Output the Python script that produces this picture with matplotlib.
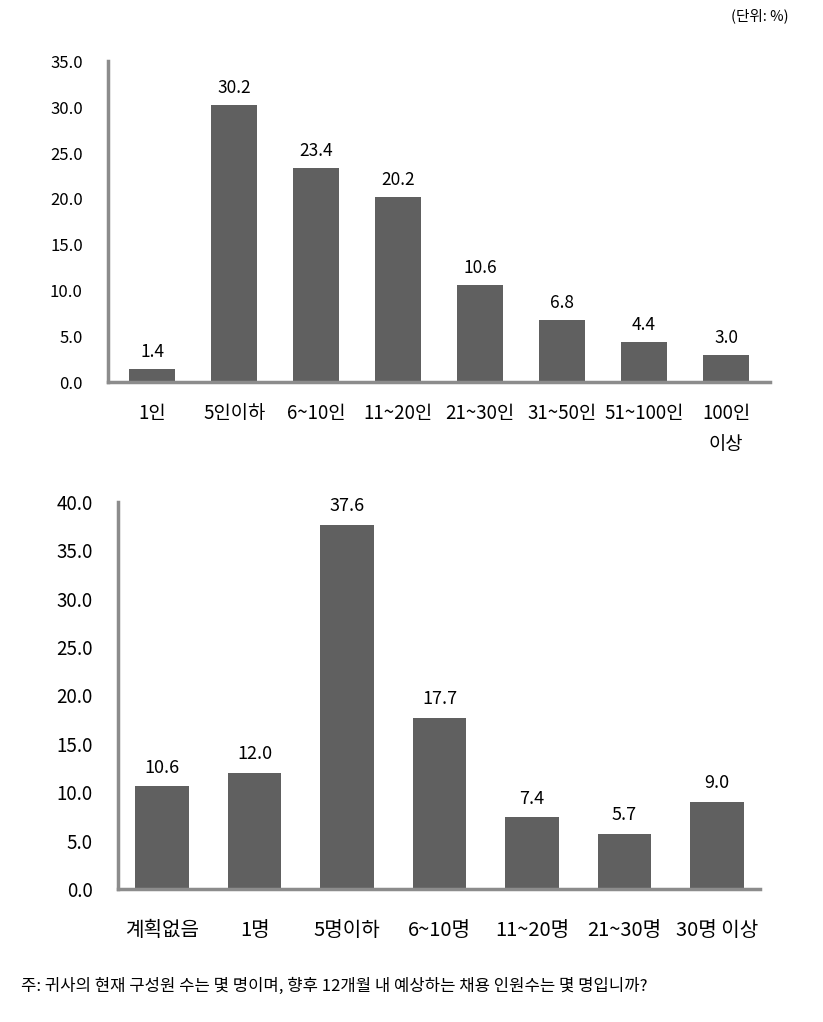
import numpy as np
import matplotlib.pyplot as plt

plt.rcParams['font.family'] = ['Noto Sans CJK KR', 'DejaVu Sans']

# 구성원 수
cat_top = ['1인', '5인이하', '6~10인', '11~20인', '21~30인', '31~50인', '51~100인', '100인\n이상']
val_top = [1.4, 30.2, 23.4, 20.2, 10.6, 6.8, 4.4, 3.0]

# 채용 예상 인원
cat_bot = ['계획없음', '1명', '5명이하', '6~10명', '11~20명', '21~30명', '30명 이상']
val_bot = [10.6, 12.0, 37.6, 17.7, 7.4, 5.7, 9.0]

bar_color = '#606060'
spine_color = '#8c8c8c'

fig = plt.figure(figsize=(8.23, 10.22), dpi=100)


def draw(ax, cats, vals, ymax, step, width, xpad, fs_y, fs_v, fs_x, xpad_lbl):
    x = np.arange(len(cats))
    ax.bar(x, vals, width=width, color=bar_color)
    for xi, v in zip(x, vals):
        ax.text(xi, v + ymax * 0.025, f'{v:.1f}', ha='center', va='bottom', fontsize=fs_v)
    ax.set_xlim(-xpad[0], len(cats) - 1 + xpad[1])
    ax.set_ylim(0, ymax)
    ticks = np.arange(0, ymax + 0.01, step)
    ax.set_yticks(ticks)
    ax.set_yticklabels([f'{t:.1f}' for t in ticks], fontsize=fs_y)
    ax.set_xticks(x)
    ax.set_xticklabels(cats, fontsize=fs_x, linespacing=1.6, va='top')
    ax.tick_params(length=0)
    ax.tick_params(axis='y', pad=18)
    ax.tick_params(axis='x', pad=xpad_lbl)
    for s in ['top', 'right']:
        ax.spines[s].set_visible(False)
    for s in ['left', 'bottom']:
        ax.spines[s].set_color(spine_color)
        ax.spines[s].set_linewidth(2.5)


ax1 = fig.add_axes([0.131, 0.626, 0.805, 0.314])
draw(ax1, cat_top, val_top, 35, 5, 0.57, (0.54, 0.54), 12, 12.5, 13.5, 15)

ax2 = fig.add_axes([0.143, 0.130, 0.780, 0.379])
draw(ax2, cat_bot, val_bot, 40, 5, 0.58, (0.48, 0.46), 13.5, 13, 14.5, 22)

fig.text(0.958, 0.985, '(단위: %)', ha='right', va='center', fontsize=10.5)
fig.text(0.025, 0.035, '주: 귀사의 현재 구성원 수는 몇 명이며, 향후 12개월 내 예상하는 채용 인원수는 몇 명입니까?',
         ha='left', va='center', fontsize=12)

fig.savefig('out.png', dpi=100)
